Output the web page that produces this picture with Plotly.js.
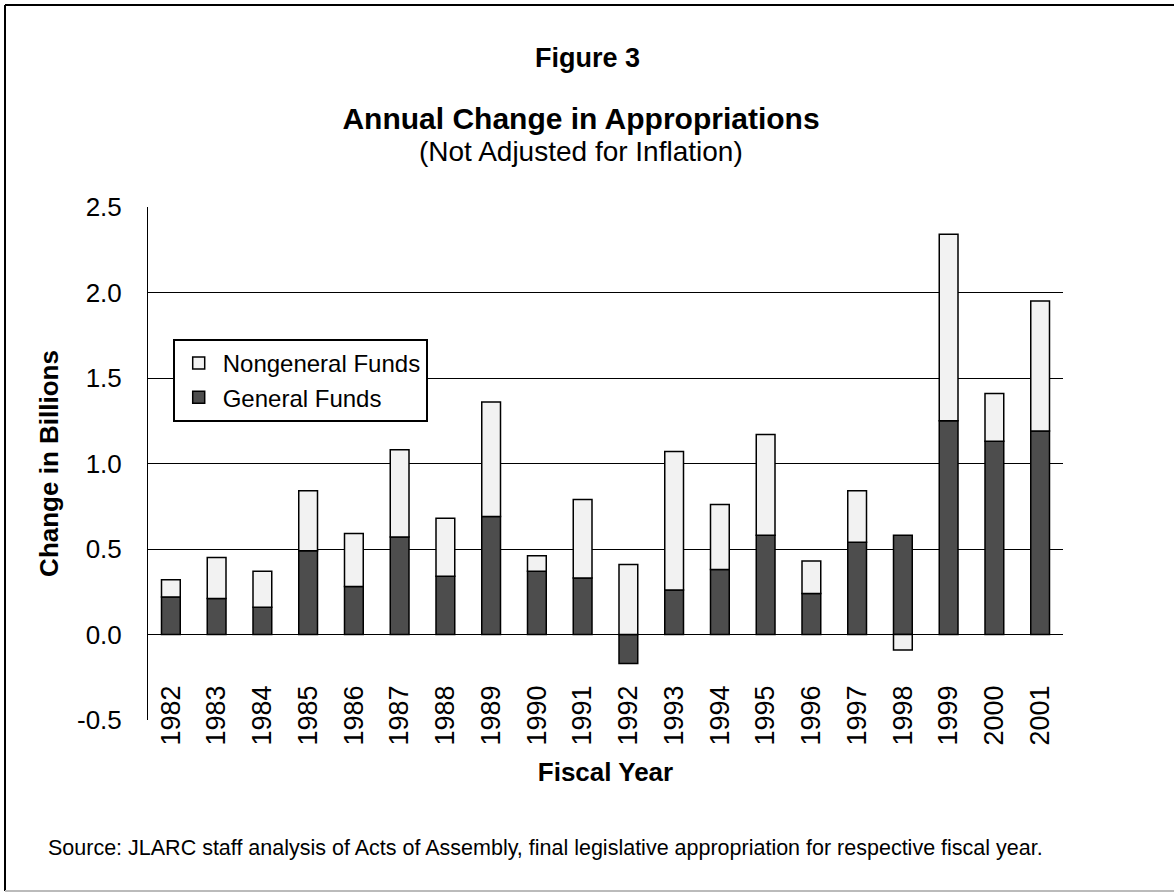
<!DOCTYPE html>
<html>
<head>
<meta charset="utf-8">
<script src="https://cdn.plot.ly/plotly-3.0.1.min.js"></script>
<style>
  html, body { margin: 0; padding: 0; background: #ffffff; }
  #chart { width: 1174px; height: 893px; }
</style>
</head>
<body>
<div id="chart"></div>
<script>
const years = ["1982","1983","1984","1985","1986","1987","1988","1989","1990","1991",
               "1992","1993","1994","1995","1996","1997","1998","1999","2000","2001"];
const generalFunds = [0.22, 0.21, 0.16, 0.49, 0.28, 0.57, 0.34, 0.69, 0.37, 0.33,
                      -0.17, 0.26, 0.38, 0.58, 0.24, 0.54, 0.58, 1.25, 1.13, 1.19];
const nongeneralFunds = [0.10, 0.24, 0.21, 0.35, 0.31, 0.51, 0.34, 0.67, 0.09, 0.46,
                         0.41, 0.81, 0.38, 0.59, 0.19, 0.30, -0.09, 1.09, 0.28, 0.76];
const yTicks = [-0.5, 0.0, 0.5, 1.0, 1.5, 2.0, 2.5];
const yTickLabels = ["-0.5", "0.0", "0.5", "1.0", "1.5", "2.0", "2.5"];

const FONT = "Arial, 'Liberation Sans', Helvetica, sans-serif";

const traces = [
  {
    type: "bar",
    name: "General Funds",
    x: years,
    y: generalFunds,
    marker: { color: "#4d4d4d", line: { color: "#000000", width: 1.5 } },
    hoverinfo: "x+y+name"
  },
  {
    type: "bar",
    name: "Nongeneral Funds",
    x: years,
    y: nongeneralFunds,
    marker: { color: "#f2f2f2", line: { color: "#000000", width: 1.5 } },
    hoverinfo: "x+y+name"
  }
];

const layout = {
  width: 1174,
  height: 893,
  paper_bgcolor: "#ffffff",
  plot_bgcolor: "#ffffff",
  font: { family: FONT, color: "#000000" },
  margin: { l: 148, r: 111, t: 207, b: 173, pad: 0 },
  barmode: "relative",
  bargap: 0.59,
  showlegend: true,
  title: {
    text: "<b>Annual Change in Appropriations</b>",
    font: { family: FONT, size: 30, color: "#000000" },
    x: 581 / 1174, xref: "container", xanchor: "center",
    y: 1 - 118 / 893, yref: "container", yanchor: "middle"
  },
  legend: {
    x: 0.027, y: 0.743, xanchor: "left", yanchor: "top",
    bgcolor: "#ffffff",
    bordercolor: "#000000",
    borderwidth: 2,
    traceorder: "reversed",
    itemwidth: 38,
    font: { family: FONT, size: 24, color: "#000000" },
    tracegroupgap: 0
  },
  xaxis: {
    type: "category",
    categoryorder: "array",
    categoryarray: years,
    showgrid: false,
    showline: false,
    zeroline: false,
    ticks: "",
    tickangle: -90,
    tickfont: { family: FONT, size: 27, color: "#000000" },
    anchor: "free",
    position: 0.08,
    title: {
      text: "<b>Fiscal Year</b>",
      font: { family: FONT, size: 26, color: "#000000" },
      standoff: 18
    }
  },
  yaxis: {
    range: [-0.5, 2.5],
    tickmode: "array",
    tickvals: yTicks,
    ticktext: yTickLabels,
    showgrid: true,
    gridcolor: "#000000",
    gridwidth: 1,
    showline: true,
    linecolor: "#000000",
    linewidth: 1,
    zeroline: true,
    zerolinecolor: "#000000",
    zerolinewidth: 1,
    ticks: "inside",
    ticklen: 5,
    tickcolor: "#000000",
    tickfont: { family: FONT, size: 26, color: "#000000" },
    ticklabelstandoff: 20,
    title: {
      text: "<b>Change in Billions</b>",
      font: { family: FONT, size: 26, color: "#000000" },
      standoff: 10
    }
  },
  annotations: [
    {
      text: "<b>Figure 3</b>",
      xref: "paper", yref: "paper",
      x: (587 - 148) / 915, y: (720 - 58) / 513,
      xanchor: "center", yanchor: "middle",
      showarrow: false,
      font: { family: FONT, size: 27, color: "#000000" }
    },
    {
      text: "(Not Adjusted for Inflation)",
      xref: "paper", yref: "paper",
      x: (581 - 148) / 915, y: (720 - 151) / 513,
      xanchor: "center", yanchor: "middle",
      showarrow: false,
      font: { family: FONT, size: 28, color: "#000000" }
    },
    {
      text: "Source: JLARC staff analysis of Acts of Assembly, final legislative appropriation for respective fiscal year.",
      xref: "paper", yref: "paper",
      x: (46 - 148) / 915, y: (720 - 848) / 513,
      xanchor: "left", yanchor: "middle",
      showarrow: false,
      font: { family: FONT, size: 21.5, color: "#000000" }
    }
  ],
  shapes: [
    {
      type: "line", xref: "paper", yref: "paper",
      x0: (5 - 148) / 915, x1: (1174 - 148) / 915,
      y0: (720 - 5) / 513, y1: (720 - 5) / 513,
      line: { color: "#000000", width: 2 }
    },
    {
      type: "line", xref: "paper", yref: "paper",
      x0: (5 - 148) / 915, x1: (5 - 148) / 915,
      y0: (720 - 5) / 513, y1: (720 - 891) / 513,
      line: { color: "#000000", width: 2 }
    },
    {
      type: "line", xref: "paper", yref: "paper",
      x0: (5 - 148) / 915, x1: (1174 - 148) / 915,
      y0: (720 - 891) / 513, y1: (720 - 891) / 513,
      line: { color: "#bbbbbb", width: 2 }
    }
  ]
};

Plotly.newPlot("chart", traces, layout, { displayModeBar: false, responsive: false });
</script>
</body>
</html>
